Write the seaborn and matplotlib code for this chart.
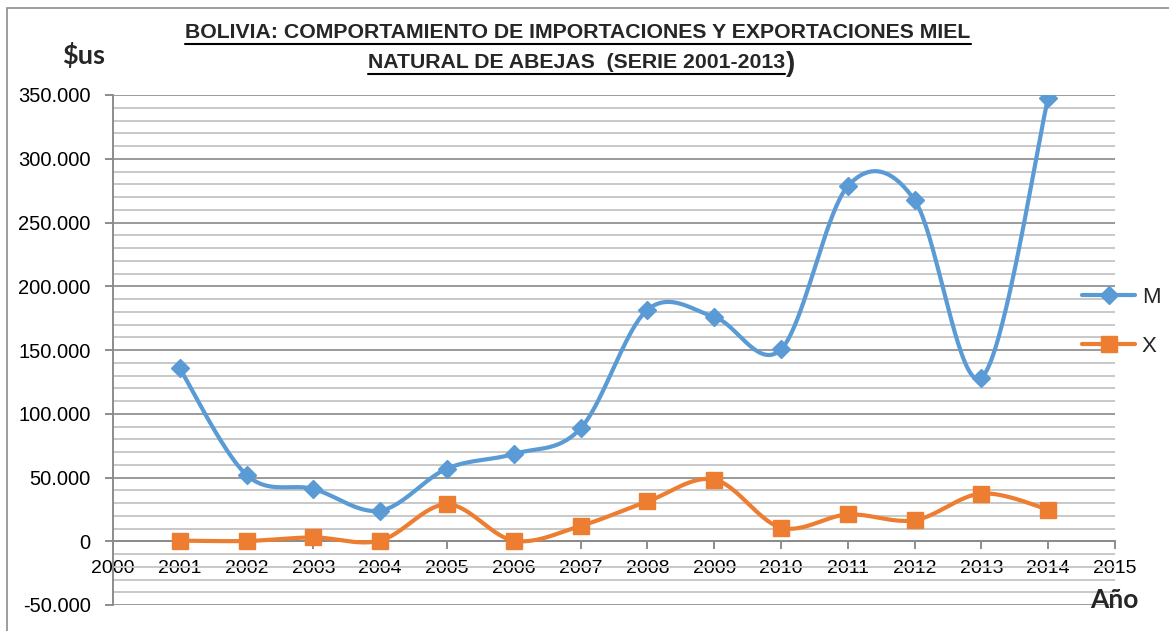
import numpy as np
import pandas as pd
import matplotlib
matplotlib.use("Agg")
import matplotlib.pyplot as plt
from matplotlib.patches import Rectangle
from matplotlib.ticker import FuncFormatter, MultipleLocator
from matplotlib.lines import Line2D
import seaborn as sns

# --- data -------------------------------------------------------------
years = [2001, 2002, 2003, 2004, 2005, 2006, 2007, 2008, 2009, 2010, 2011, 2012, 2013, 2014]
imports_m = [135500, 52000, 41000, 24000, 57000, 68500, 88500, 181500, 176000, 150500, 278500, 267500, 128200, 348000]
exports_x = [500, 200, 3000, 500, 29000, 500, 12000, 31200, 48400, 10700, 21000, 16500, 37400, 24900]
series_names = ["M", "X"]
series_colors = ["#5B9BD5", "#ED7D31"]
series_markers = ["D", "s"]

title_line1 = "BOLIVIA: COMPORTAMIENTO DE IMPORTACIONES Y EXPORTACIONES MIEL"
title_line2 = "NATURAL DE ABEJAS  (SERIE 2001-2013"
y_unit = "$us"
x_label = "Año"


def smooth_curve(xs, ys, steps=40):
    """Cubic Bezier smoothing through every point (Catmull-Rom style)."""
    pts = np.column_stack([xs, ys]).astype(float)
    n = len(pts)
    out = []
    for i in range(n - 1):
        p_prev = pts[max(i - 1, 0)]
        p0 = pts[i]
        p1 = pts[i + 1]
        p_next = pts[min(i + 2, n - 1)]
        c1 = p0 + (p1 - p_prev) / 6.0
        c2 = p1 - (p_next - p0) / 6.0
        t = np.linspace(0, 1, steps, endpoint=(i == n - 2))[:, None]
        seg = ((1 - t) ** 3) * p0 + 3 * ((1 - t) ** 2) * t * c1 + 3 * (1 - t) * t ** 2 * c2 + t ** 3 * p1
        out.append(seg)
    out = np.vstack(out)
    return out[:, 0], out[:, 1]


sns.set_theme(style="white")
plt.rcParams["font.family"] = ["Liberation Sans", "DejaVu Sans"]

fig = plt.figure(figsize=(11.69, 6.31), dpi=100)
W, H = 1169, 631
ax = fig.add_axes([113 / W, 1 - 605 / H, (1115 - 113) / W, (605 - 95) / H])

# chart frame
fig.patches.append(Rectangle((7 / W, -0.1), 1.2, 1 - 8 / H + 0.1, transform=fig.transFigure,
                             fill=False, edgecolor="#8c8c8c", linewidth=1.2, zorder=0))

# gridlines
ax.set_ylim(-50000, 350000)
ax.set_xlim(2000, 2015)
ax.yaxis.set_major_locator(MultipleLocator(50000))
ax.yaxis.set_minor_locator(MultipleLocator(10000))
ax.xaxis.set_major_locator(MultipleLocator(1))
ax.grid(which="minor", axis="y", color="#c8c8c8", linewidth=1.4)
ax.grid(which="major", axis="y", color="#9a9a9a", linewidth=1.4)
ax.grid(which="both", axis="x", visible=False)
ax.set_axisbelow(True)

for s in ["top", "right"]:
    ax.spines[s].set_visible(False)
ax.spines["left"].set_color("#8c8c8c")
ax.spines["left"].set_linewidth(1.4)
ax.spines["bottom"].set_position(("data", 0))
ax.spines["bottom"].set_color("#8c8c8c")
ax.spines["bottom"].set_linewidth(1.4)

ax.yaxis.set_major_formatter(FuncFormatter(lambda v, p: "0" if v == 0 else f"{int(v):,}".replace(",", ".")))
ax.xaxis.set_major_formatter(FuncFormatter(lambda v, p: f"{int(v)}"))
ax.tick_params(axis="y", which="major", direction="out", length=6, width=1.4, color="#8c8c8c",
               labelsize=14.5, pad=10, left=True)
ax.tick_params(axis="y", which="minor", length=0)
ax.tick_params(axis="x", which="major", direction="out", length=6, width=1.4, color="#8c8c8c",
               labelsize=14, pad=7.5, bottom=True)
for lab in ax.get_xticklabels() + ax.get_yticklabels():
    lab.set_color("#000000")

# series
df = pd.DataFrame({"year": years, "M": imports_m, "X": exports_x})
handles = []
for name, color, marker in zip(series_names, series_colors, series_markers):
    sx, sy = smooth_curve(df["year"].values, df[name].values)
    sns.lineplot(x=sx, y=sy, ax=ax, color=color, linewidth=3, sort=False, zorder=3)
    ms = 9 if marker == "D" else 11
    ax.plot(df["year"], df[name], linestyle="none", marker=marker, markersize=ms,
            color=color, markeredgecolor=color, zorder=4)
    handles.append(Line2D([0], [0], color=color, linewidth=3, marker=marker,
                          markersize=ms, markeredgecolor=color))

fig.legend(handles, series_names, loc="center left", bbox_to_anchor=(1073 / W, 1 - 322 / H),
           frameon=False, fontsize=16, handlelength=2.4, labelspacing=1.25, handletextpad=0.3,
           borderaxespad=0)

# titles and axis captions
fig.text(578 / W, 1 - 33 / H, title_line1, ha="center", va="center", fontsize=15.3,
         fontweight="bold")
fig.text(785 / W, 1 - 63 / H, title_line2, ha="right", va="center", fontsize=15.3,
         fontweight="bold")
fig.text(786 / W, 1 - 64 / H, ")", ha="left", va="center", fontsize=20, fontweight="bold")

fig.canvas.draw()
renderer = fig.canvas.get_renderer()
for txt in fig.texts[:2]:
    bb = txt.get_window_extent(renderer)
    y0 = bb.y0 - 1
    fig.add_artist(Line2D([bb.x0 / W, bb.x1 / W], [y0 / H, y0 / H], color="black",
                          linewidth=1.5, transform=fig.transFigure))

fig.text(62 / W, 1 - 55 / H, y_unit, ha="left", va="center", fontsize=19.5, fontweight="bold",
         family=["Lato", "DejaVu Sans"])
fig.text(1090 / W, 1 - 600 / H, x_label, ha="left", va="center", fontsize=19, fontweight="bold",
         family=["Lato", "DejaVu Sans"])

fig.savefig("out.png", dpi=100)
